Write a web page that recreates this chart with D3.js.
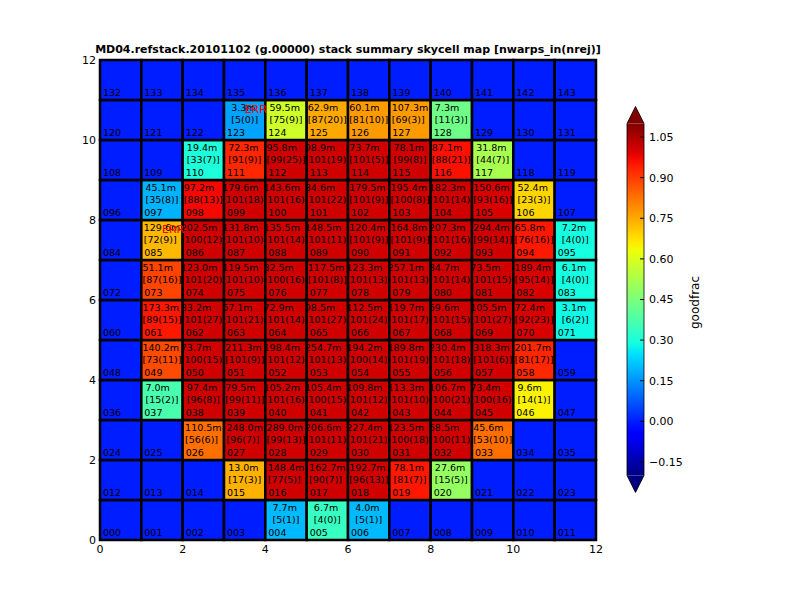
<!DOCTYPE html>
<meta charset="utf-8">
<!-- skycell stack summary map -->
<style>body { margin: 0; }</style>
<svg width="800" height="600"></svg>
<script src="https://d3js.org/d3.v7.min.js"></script>
<script>
// cells with a stack; every other skycell is empty (goodfrac 0)
const cellIds = [4, 5, 6, 15, 16, 17, 18, 19, 20,
  26, 27, 28, 29, 30, 31, 32, 33,
  37, 38, 39, 40, 41, 42, 43, 44, 45, 46,
  49, 50, 51, 52, 53, 54, 55, 56, 57, 58,
  61, 62, 63, 64, 65, 66, 67, 68, 69, 70, 71,
  73, 74, 75, 76, 77, 78, 79, 80, 81, 82, 83,
  85, 86, 87, 88, 89, 90, 91, 92, 93, 94, 95,
  97, 98, 99, 100, 101, 102, 103, 104, 105, 106,
  110, 111, 112, 113, 114, 115, 116, 117,
  123, 124, 125, 126, 127, 128];
const expMinutes = [7.7, 6.7, 4.0, 13.0, 148.4, 162.7, 192.7, 78.1, 27.6,
  110.5, 248.0, 289.0, 206.6, 227.4, 123.5, 68.5, 45.6,
  7.0, 97.4, 79.5, 105.2, 105.4, 109.8, 113.3, 106.7, 73.4, 9.6,
  140.2, 73.7, 211.3, 198.4, 254.7, 194.2, 189.8, 230.4, 318.3, 201.7,
  173.3, 83.2, 67.1, 72.9, 98.5, 112.5, 119.7, 69.6, 105.5, 72.4, 3.1,
  51.1, 123.0, 119.5, 82.5, 117.5, 123.3, 257.1, 84.7, 73.5, 189.4, 6.1,
  129.6, 202.5, 131.8, 135.5, 148.5, 120.4, 164.8, 207.3, 294.4, 65.8, 7.2,
  45.1, 97.2, 179.6, 143.6, 84.6, 179.5, 195.4, 182.3, 150.6, 52.4,
  19.4, 72.3, 95.8, 98.9, 73.7, 78.1, 87.1, 31.8,
  3.3, 59.5, 62.9, 60.1, 107.3, 7.3];
const nwarpsIn = [5, 4, 5, 17, 77, 90, 96, 81, 15,
  56, 96, 99, 101, 101, 100, 100, 53,
  15, 96, 99, 101, 100, 101, 101, 100, 100, 14,
  73, 100, 101, 101, 101, 100, 101, 101, 101, 81,
  89, 101, 101, 101, 101, 101, 101, 101, 101, 92, 6,
  87, 101, 101, 100, 101, 101, 101, 101, 101, 95, 4,
  72, 100, 101, 101, 101, 101, 101, 101, 99, 76, 4,
  35, 88, 101, 101, 101, 101, 100, 101, 93, 23,
  33, 91, 99, 101, 101, 99, 88, 44,
  5, 75, 87, 81, 69, 11];
const nRej = [1, 0, 1, 3, 5, 7, 13, 7, 5,
  6, 7, 13, 11, 21, 18, 11, 10,
  2, 8, 11, 16, 15, 12, 10, 21, 16, 1,
  11, 15, 9, 12, 13, 14, 19, 18, 6, 17,
  15, 27, 21, 14, 27, 24, 17, 15, 27, 23, 2,
  16, 20, 10, 16, 8, 13, 13, 14, 15, 14, 0,
  9, 12, 10, 14, 11, 9, 9, 16, 14, 16, 0,
  8, 13, 18, 16, 22, 9, 8, 14, 16, 3,
  7, 9, 25, 19, 5, 8, 21, 7,
  0, 9, 20, 10, 3, 3];
const goodFrac = [0.20, 0.34, 0.20, 0.74, 1.01, 1.01, 1.01, 0.95, 0.49,
  0.83, 1.01, 1.01, 1.01, 1.01, 1.01, 1.01, 0.83,
  0.37, 1.01, 1.01, 1.01, 1.01, 1.01, 1.01, 1.01, 1.01, 0.65,
  0.88, 1.01, 1.01, 1.01, 1.01, 1.01, 1.01, 1.01, 1.01, 0.93,
  0.95, 1.01, 1.01, 1.01, 1.01, 1.01, 1.01, 1.01, 1.01, 1.0, 0.28,
  0.89, 1.01, 1.01, 1.01, 1.01, 1.01, 1.01, 1.01, 1.01, 1.0, 0.29,
  0.73, 1.01, 1.01, 1.01, 1.01, 1.01, 1.01, 1.01, 1.01, 0.95, 0.29,
  0.19, 0.97, 1.01, 1.01, 1.01, 1.01, 1.01, 1.01, 1.0, 0.69,
  0.30, 0.93, 1.01, 1.01, 1.01, 1.01, 0.96, 0.52,
  0.17, 0.58, 0.75, 0.77, 0.77, 0.43];
const errCells = [85, 123];
const axisTicks = [0, 2, 4, 6, 8, 10, 12];
const cbarTicks = [-0.15, 0, 0.15, 0.30, 0.45, 0.60, 0.75, 0.90, 1.05];

const title = "MD04.refstack.20101102 (g.00000) stack summary skycell map [nwarps_in(nrej)]";
const font = "DejaVu Sans, sans-serif";

const svg = d3.select("svg").style("background", "#fff").style("font-family", font)
  .style("display", "block");

const x = d3.scaleLinear().domain([0, 12]).range([100, 596]);
const y = d3.scaleLinear().domain([0, 12]).range([540, 60]);

// matplotlib jet
function seg(t, pts) {
  for (let i = 1; i < pts.length; i++) {
    if (t <= pts[i][0]) {
      const [x0, y0] = pts[i - 1], [x1, y1] = pts[i];
      return y0 + (y1 - y0) * (t - x0) / (x1 - x0);
    }
  }
  return pts[pts.length - 1][1];
}
function jet(t) {
  t = Math.max(0, Math.min(1, t));
  const r = seg(t, [[0, 0], [0.35, 0], [0.66, 1], [0.89, 1], [1, 0.5]]);
  const g = seg(t, [[0, 0], [0.125, 0], [0.375, 1], [0.64, 1], [0.91, 0], [1, 0]]);
  const b = seg(t, [[0, 0.5], [0.11, 1], [0.34, 1], [0.65, 0], [1, 0]]);
  return d3.rgb(r * 255, g * 255, b * 255).toString();
}
const color = d3.scaleSequential(jet).domain([-0.2, 1.1]);

const byId = new Map(cellIds.map((id, i) => [id, i]));
const cells = d3.range(144).map(id => {
  const i = byId.get(id);
  return {
    id, col: id % 12, row: Math.floor(id / 12),
    gf: i === undefined ? 0 : goodFrac[i],
    lines: i === undefined ? null : [d3.format(".1f")(expMinutes[i]) + "m", "[" + nwarpsIn[i] + "(" + nRej[i] + ")]"]
  };
});

const plot = svg.append("g");
const cw = x(1) - x(0), ch = y(0) - y(1);

// each cell drawn in order: later cells cover text spilling from earlier ones
const g = plot.selectAll("g.cell").data(cells).join("g").attr("class", "cell");
g.append("rect")
  .attr("x", d => x(d.col)).attr("y", d => y(d.row + 1))
  .attr("width", cw).attr("height", ch)
  .attr("fill", d => color(d.gf))
  .attr("stroke", "#000").attr("stroke-width", 2.5);
g.append("text")
  .attr("x", d => x(d.col) + 3).attr("y", d => y(d.row) - 4)
  .attr("font-size", 9.5).text(d => d3.format("03d")(d.id));
g.filter(d => d.lines).each(function(d) {
  const sel = d3.select(this);
  const t = d.lines.map((s, k) => sel.append("text").attr("font-size", 9.5)
    .attr("y", y(d.row + 1) + 11 + k * 11.5).text(s));
  const w = d3.max(t, s => s.node().getComputedTextLength());
  t.forEach(s => s.attr("x", x(d.col + 0.5) - w / 2));
});

plot.selectAll("text.err").data(errCells).join("text").attr("class", "err")
  .attr("x", d => x(d % 12 + 0.5)).attr("y", d => y(Math.floor(d / 12) + 0.77))
  .attr("dy", "0.35em").attr("font-size", 11).attr("fill", "red").text("ERR");

svg.append("rect").attr("x", x(0)).attr("y", y(12)).attr("width", x(12) - x(0)).attr("height", y(0) - y(12))
  .attr("fill", "none").attr("stroke", "#000");

svg.append("g").selectAll("text").data(axisTicks).join("text")
  .attr("x", d => x(d)).attr("y", 553).attr("text-anchor", "middle")
  .attr("font-size", 11).text(d => d);
svg.append("g").selectAll("text").data(axisTicks).join("text")
  .attr("x", 96).attr("y", d => y(d)).attr("dy", "0.35em").attr("text-anchor", "end")
  .attr("font-size", 11).text(d => d);

svg.append("text").attr("x", (x(0) + x(12)) / 2).attr("y", 53).attr("text-anchor", "middle")
  .attr("font-size", 11).attr("font-weight", "bold").text(title);

// colorbar
const cb = d3.scaleLinear().domain([-0.2, 1.1]).range([475.5, 123.5]);
const cbx = 627, cbw = 17;
const grad = svg.append("defs").append("linearGradient").attr("id", "jet")
  .attr("x1", 0).attr("y1", 1).attr("x2", 0).attr("y2", 0);
grad.selectAll("stop").data(d3.range(0, 1.0001, 0.02)).join("stop")
  .attr("offset", d => d).attr("stop-color", d => jet(d));
svg.append("rect").attr("x", cbx).attr("y", cb(1.1)).attr("width", cbw).attr("height", cb(-0.2) - cb(1.1))
  .attr("fill", "url(#jet)");
svg.append("path").attr("fill", jet(1))
  .attr("d", `M${cbx},${cb(1.1)}L${cbx + cbw / 2},${cb(1.1) - 17}L${cbx + cbw},${cb(1.1)}Z`);
svg.append("path").attr("fill", jet(0))
  .attr("d", `M${cbx},${cb(-0.2)}L${cbx + cbw / 2},${cb(-0.2) + 17}L${cbx + cbw},${cb(-0.2)}Z`);
svg.append("path").attr("fill", "none").attr("stroke", "#000").attr("stroke-width", 0.8)
  .attr("d", `M${cbx},${cb(1.1)}L${cbx + cbw / 2},${cb(1.1) - 17}L${cbx + cbw},${cb(1.1)}L${cbx + cbw},${cb(-0.2)}L${cbx + cbw / 2},${cb(-0.2) + 17}L${cbx},${cb(-0.2)}Z`);
const ct = svg.append("g").selectAll("g").data(cbarTicks).join("g")
  .attr("transform", d => `translate(0,${cb(d)})`);
ct.append("line").attr("x1", cbx + cbw - 4).attr("x2", cbx + cbw).attr("stroke", "#000");
ct.append("text").attr("x", cbx + cbw + 5).attr("dy", "0.35em").attr("font-size", 11)
  .text(d => d3.format(".2f")(d));
svg.append("text").attr("transform", `translate(695,${(cb(-0.2) + cb(1.1)) / 2 + 3}) rotate(-90)`)
  .attr("text-anchor", "middle").attr("dy", "0.35em").attr("font-size", 12).text("goodfrac");
</script>
